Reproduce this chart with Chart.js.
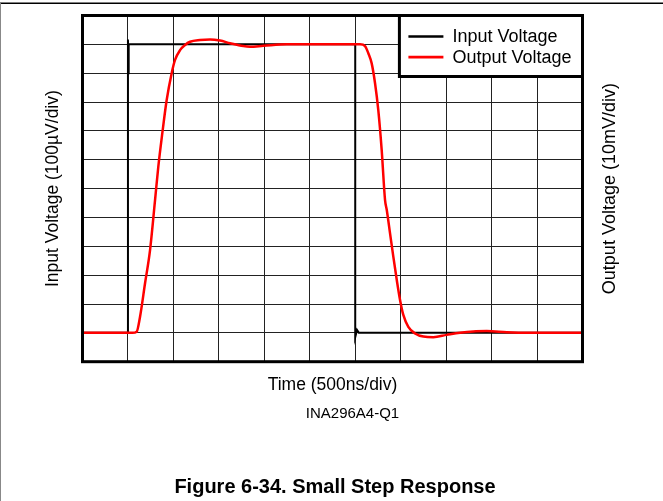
<!DOCTYPE html>
<html>
<head>
<meta charset="utf-8">
<title>Small Step Response</title>
<script src="https://cdn.jsdelivr.net/npm/chart.js@4.4.1/dist/chart.umd.min.js"></script>
<style>
  html, body { margin: 0; padding: 0; background: #fff; }
  #wrap { width: 663px; height: 501px; }
</style>
</head>
<body>
<div id="wrap"><canvas id="stepChart" width="663" height="501"></canvas></div>
<script>
// time axis in microseconds (500 ns per division)
const timeRange = [0, 5.5];
const timeStep = 0.5;
// input voltage in µV (100 µV per division)
const inputRange = [-100, 1100];
const inputStep = 100;
// output voltage in mV (10 mV per division)
const outputRange = [-10, 110];
const outputStep = 10;

const inputTime = [0, 0.5, 0.5, 0.504, 0.508, 3.0, 3.0, 3.02, 3.04, 5.5];
const inputVolt = [0, 0, 1017, 900, 1000, 1000, -15, 10, 0, 0];

const outputTime = [0, 0.55, 0.596, 0.633, 0.688, 0.743, 0.798, 0.834, 0.878, 0.926, 0.981, 1.018, 1.073, 1.128,
  1.183, 1.293, 1.403, 1.513, 1.623, 1.769, 1.843, 1.989, 2.246, 2.8, 3.053, 3.108, 3.144, 3.181, 3.218, 3.254,
  3.291, 3.328, 3.347, 3.383, 3.419, 3.457, 3.493, 3.529, 3.584, 3.658, 3.75, 3.859, 4.006, 4.153, 4.299, 4.447,
  4.667, 4.887, 5.5];
const outputVolt = [0, 0, 0.4, 5.6, 17.2, 28.7, 46.0, 57.6, 69.2, 80.7, 90.0, 94.6, 98.0, 99.8,
  100.9, 101.5, 101.7, 101.3, 100.4, 99.4, 99.2, 99.5, 100.0, 100.0, 100.0, 99.4, 96.9, 93.4, 86.5, 77.1,
  63.4, 46.0, 42.6, 34.5, 26.4, 18.3, 11.4, 6.2, 2.1, -0.2, -1.3, -1.5, -0.7, 0.05, 0.5, 0.6,
  0.2, 0, 0];

const seriesNames = ['Input Voltage', 'Output Voltage'];
const xTitle = 'Time (500ns/div)';
const leftTitle = 'Input Voltage (100\u00b5V/div)';
const rightTitle = 'Output Voltage (10mV/div)';
const partName = 'INA296A4-Q1';
const caption = 'Figure 6-34. Small Step Response';

const FONT = '"Liberation Sans", Arial, sans-serif';
Chart.defaults.font.family = FONT;
Chart.defaults.color = '#000';

function toPoints(xs, ys) {
  return xs.map((x, i) => ({ x: x, y: ys[i] }));
}

// page rules, plot frame, legend box and captions
const figureDecor = {
  id: 'figureDecor',
  beforeDraw(chart) {
    const c = chart.ctx;
    c.save();
    c.fillStyle = '#fff';
    c.fillRect(0, 0, chart.width, chart.height);
    c.strokeStyle = '#000';
    c.lineWidth = 1.5;
    c.beginPath(); c.moveTo(0, 3.3); c.lineTo(chart.width, 3.3); c.stroke();
    c.strokeStyle = '#888';
    c.lineWidth = 1;
    c.beginPath(); c.moveTo(0.5, 3); c.lineTo(0.5, chart.height); c.stroke();
    c.restore();
  },
  afterDatasetsDraw(chart) {
    const c = chart.ctx;
    const a = chart.chartArea;
    c.save();
    c.strokeStyle = '#000';
    c.lineWidth = 3;
    c.strokeRect(a.left, a.top, a.right - a.left, a.bottom - a.top);

    // legend
    const sets = chart.data.datasets;
    c.font = '18px ' + FONT;
    const textW = Math.max(...sets.map(d => c.measureText(d.label).width));
    const boxW = 9 + 35 + 10 + textW + 10;
    const boxH = 61;
    const bx = a.right - boxW, by = a.top;
    c.fillStyle = '#fff';
    c.fillRect(bx, by, boxW, boxH);
    c.strokeRect(bx, by, boxW, boxH);
    sets.forEach((d, i) => {
      const y = by + 21 + i * 20.6;
      c.strokeStyle = d.borderColor;
      c.lineWidth = 2.7;
      c.beginPath(); c.moveTo(bx + 9, y); c.lineTo(bx + 44, y); c.stroke();
      c.fillStyle = '#000';
      c.textBaseline = 'middle';
      c.textAlign = 'left';
      c.fillText(d.label, bx + 53, y + 1);
    });

    // right axis title, read bottom to top
    c.save();
    c.translate(610, (a.top + a.bottom) / 2);
    c.rotate(-Math.PI / 2);
    c.textAlign = 'center';
    c.textBaseline = 'middle';
    c.font = '18px ' + FONT;
    c.fillText(rightTitle, 0, 0);
    c.restore();

    c.textAlign = 'center';
    c.textBaseline = 'middle';
    c.font = '15px ' + FONT;
    c.fillText(partName, 352.5, 414);
    c.font = 'bold 20px ' + FONT;
    c.fillText(caption, 335, 487);
    c.restore();
  }
};

const gridStyle = { color: '#222', lineWidth: 1, drawTicks: false };

const ctx = document.getElementById('stepChart').getContext('2d');
const stepChart = new Chart(ctx, {
  type: 'line',
  data: {
    datasets: [
      {
        label: seriesNames[0],
        data: toPoints(inputTime, inputVolt),
        yAxisID: 'yIn',
        borderColor: '#000000',
        backgroundColor: '#000000',
        borderWidth: 2,
        pointRadius: 0,
        tension: 0,
        order: 2
      },
      {
        label: seriesNames[1],
        data: toPoints(outputTime, outputVolt),
        yAxisID: 'yOut',
        borderColor: '#ff0000',
        backgroundColor: '#ff0000',
        borderWidth: 2.5,
        pointRadius: 0,
        cubicInterpolationMode: 'monotone',
        order: 1
      }
    ]
  },
  options: {
    responsive: false,
    animation: false,
    events: [],
    layout: { padding: { left: 10, right: 80.5, top: 15.5, bottom: 97.8 } },
    plugins: {
      legend: { display: false },
      tooltip: { enabled: false }
    },
    scales: {
      x: {
        type: 'linear',
        min: timeRange[0],
        max: timeRange[1],
        ticks: { display: false, stepSize: timeStep },
        grid: gridStyle,
        border: { display: false },
        title: { display: true, text: xTitle, font: { size: 17.5 }, padding: { top: 12.5, bottom: 8 } }
      },
      yIn: {
        position: 'left',
        min: inputRange[0],
        max: inputRange[1],
        ticks: { display: false, stepSize: inputStep },
        grid: gridStyle,
        border: { display: false },
        title: { display: true, text: leftTitle, font: { size: 17.5 }, padding: { top: 32.5, bottom: 19 } }
      },
      yOut: {
        display: false,
        position: 'right',
        min: outputRange[0],
        max: outputRange[1],
        ticks: { stepSize: outputStep }
      }
    }
  },
  plugins: [figureDecor]
});
</script>
</body>
</html>
